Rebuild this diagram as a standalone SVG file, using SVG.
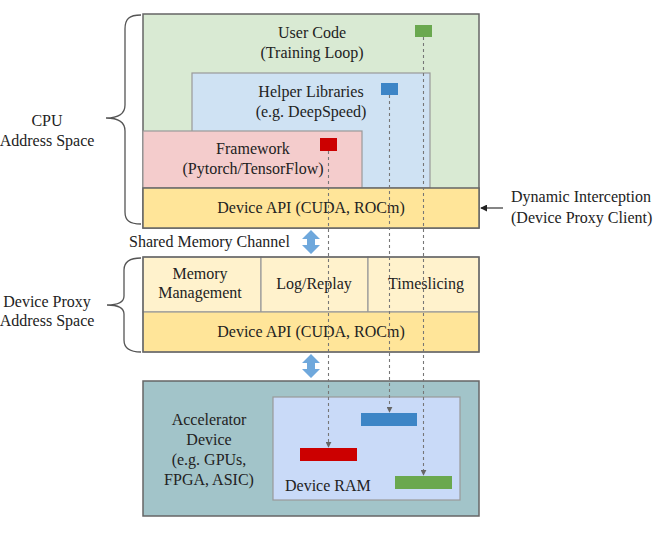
<svg xmlns="http://www.w3.org/2000/svg" width="660" height="549" viewBox="0 0 660 549">
<defs>
<style>
text{font-family:"Liberation Serif","Times New Roman",serif;font-size:16px;fill:#222}
.c{text-anchor:middle}
.box{stroke:#666;stroke-width:1.5}
.inner{stroke:#999;stroke-width:1.2}
.dash{stroke:#777;stroke-width:1.1;stroke-dasharray:3,3;fill:none}
.brace{fill:none;stroke:#555;stroke-width:1.3}
.dbl{fill:#6fa8dc}
</style>
<marker id="ah" viewBox="0 0 8 8" refX="7" refY="4" markerWidth="6" markerHeight="6" orient="auto" markerUnits="userSpaceOnUse">
<path d="M0,0 L8,4 L0,8 z" fill="#666"/>
</marker>
<marker id="ak" viewBox="0 0 8 8" refX="7" refY="4" markerWidth="7" markerHeight="7" orient="auto" markerUnits="userSpaceOnUse">
<path d="M0,0 L8,4 L0,8 z" fill="#222"/>
</marker>
</defs>
<rect width="660" height="549" fill="#fff"/>

<g id="user-code">
<rect class="box" x="143" y="14" width="336" height="214" fill="#d9ead3"/>
<text class="c" x="312" y="38">User Code</text>
<text class="c" x="312" y="58">(Training Loop)</text>
<rect x="415" y="25" width="17" height="12" fill="#6aa84f"/>
</g>
<g id="helper-libraries">
<rect class="inner" x="192" y="73" width="238" height="115" fill="#cfe2f3"/>
<text class="c" x="311" y="97">Helper Libraries</text>
<text class="c" x="311" y="117">(e.g. DeepSpeed)</text>
<rect x="381" y="83" width="17" height="12" fill="#3d85c6"/>
</g>
<g id="framework">
<rect class="inner" x="143" y="131" width="219" height="57" fill="#f4cccc"/>
<text class="c" x="253" y="154">Framework</text>
<text class="c" x="253" y="174">(Pytorch/TensorFlow)</text>
<rect x="320" y="138" width="17" height="13" fill="#cc0000"/>
</g>
<g id="device-api-cpu">
<rect class="box" x="143" y="188" width="336" height="40" fill="#ffe599"/>
<text class="c" x="311" y="213">Device API (CUDA, ROCm)</text>
</g>
<g id="cpu-label">
<path class="brace" d="M141,15 C129,15 125,19 125,29 L125,105 C125,113 119,118 106,118 C119,118 125,123 125,131 L125,212 C125,220 129,224 141,224"/>
<text class="c" x="47" y="126">CPU</text>
<text class="c" x="47" y="146">Address Space</text>
</g>
<g id="interception-label">
<text x="511" y="202">Dynamic Interception</text>
<text x="511" y="223">(Device Proxy Client)</text>
</g>
<g id="shared-memory">
<text x="129" y="247">Shared Memory Channel</text>
<polygon class="dbl" points="311,230 320,239 315,239 315,245 320,245 311,254 302,245 307,245 307,239 302,239"/>
</g>
<g id="memory-management">
<rect class="inner" x="143" y="257" width="118" height="55" fill="#fff2cc"/>
<text class="c" x="200" y="279">Memory</text>
<text class="c" x="200" y="298">Management</text>
</g>
<g id="log-replay">
<rect class="inner" x="261" y="257" width="107" height="55" fill="#fff2cc"/>
<text class="c" x="314" y="289">Log/Replay</text>
</g>
<g id="timeslicing">
<rect class="inner" x="368" y="257" width="111" height="55" fill="#fff2cc"/>
<text class="c" x="426" y="289">Timeslicing</text>
</g>
<g id="device-api-proxy">
<rect class="inner" x="143" y="312" width="336" height="40" fill="#ffe599"/>
<rect x="143" y="257" width="336" height="95" fill="none" class="box"/>
<text class="c" x="311" y="337">Device API (CUDA, ROCm)</text>
</g>
<g id="proxy-label">
<path class="brace" d="M141,258 C129,258 124,262 124,270 L124,296 C124,302 119,305 107,305 C119,305 124,308 124,314 L124,340 C124,348 129,352 141,352"/>
<text class="c" x="47" y="307">Device Proxy</text>
<text class="c" x="47" y="326">Address Space</text>
</g>
<g id="link-arrow">
<polygon class="dbl" points="311,354 320,363 315,363 315,369 320,369 311,378 302,369 307,369 307,363 302,363"/>
</g>
<g id="accelerator">
<rect class="box" x="143" y="381" width="336" height="135" fill="#a2c4c9"/>
<text class="c" x="209" y="425">Accelerator</text>
<text class="c" x="209" y="445">Device</text>
<text class="c" x="209" y="465">(e.g. GPUs,</text>
<text class="c" x="209" y="485">FPGA, ASIC)</text>
</g>
<g id="device-ram">
<rect class="inner" x="273" y="397" width="187" height="103" fill="#c9daf8"/>
<text x="285" y="491">Device RAM</text>
<rect x="361" y="413" width="56" height="13" fill="#3d85c6"/>
<rect x="300" y="448" width="57" height="13" fill="#cc0000"/>
<rect x="395" y="476" width="57" height="13" fill="#6aa84f"/>
</g>
<g id="connectors">
<line class="dash" x1="328.5" y1="151" x2="328.5" y2="447" marker-end="url(#ah)"/>
<line class="dash" x1="389.5" y1="95" x2="389.5" y2="412" marker-end="url(#ah)"/>
<line class="dash" x1="423.5" y1="37" x2="423.5" y2="475" marker-end="url(#ah)"/>
<line x1="503" y1="208" x2="481" y2="208" stroke="#222" stroke-width="1.1" marker-end="url(#ak)"/>
</g>
</svg>
